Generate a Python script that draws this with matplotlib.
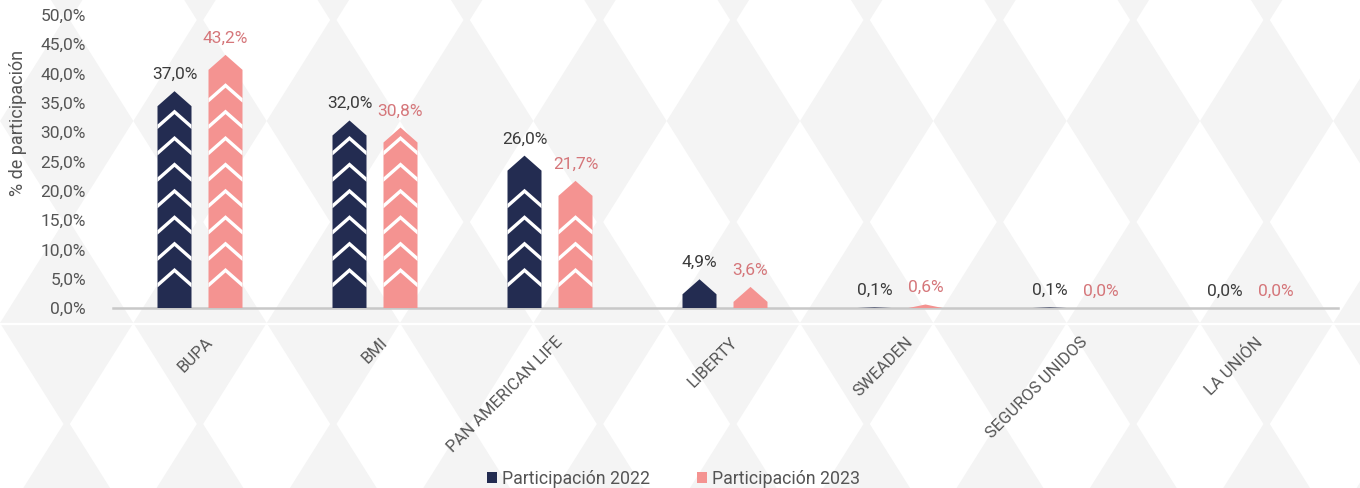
import numpy as np
import matplotlib
matplotlib.use('Agg')
import matplotlib.pyplot as plt
from matplotlib.patches import Polygon, Patch

categories = ['BUPA', 'BMI', 'PAN AMERICAN LIFE', 'LIBERTY', 'SWEADEN', 'SEGUROS UNIDOS', 'LA UNIÓN']
part_2022 = [37.0, 32.0, 26.0, 4.9, 0.1, 0.1, 0.0]
part_2023 = [43.2, 30.8, 21.7, 3.6, 0.6, 0.0, 0.0]
series_names = ['Participación 2022', 'Participación 2023']
yticks = [0, 5, 10, 15, 20, 25, 30, 35, 40, 45, 50]

NAVY = '#232c51'
PINK = '#f49391'
LBL_2022 = '#3c3c3c'
LBL_2023 = '#d5767a'
GREY_TXT = '#555555'
BG_GREY = '#f4f4f4'

plt.rcParams['font.family'] = ['Roboto', 'DejaVu Sans']

W, H = 1360, 488
fig = plt.figure(figsize=(W / 100, H / 100), dpi=100)
fig.patch.set_facecolor(BG_GREY)

# background harlequin pattern, pixel coords (y down)
bg = fig.add_axes([0, 0, 1, 1], zorder=0)
bg.set_xlim(0, W)
bg.set_ylim(H, 0)
bg.axis('off')
step_x, half_w, half_h = 133.33, 63.5, 101
for j in range(-1, 4):
    cy = 20 + 202 * j
    for i in range(-1, 12):
        cx = step_x * i
        bg.add_patch(Polygon([(cx - half_w, cy), (cx, cy - half_h), (cx + half_w, cy), (cx, cy + half_h)],
                             closed=True, facecolor='white', edgecolor='none'))
bg.axhline(323.5, color='white', lw=1.6)

# main axes: 0% at y=308px, 50% at y=15px
ax = fig.add_axes([112.5 / W, (H - 308) / H, 1225 / W, 293 / H], zorder=1)
ax.set_facecolor('none')
ax.set_xlim(-0.5, 6.5)
ax.set_ylim(0, 50)

px_x = 1 / 175.0       # data units per pixel, x
px_y = 50 / 293.0      # data units per pixel, y
bar_w = 34 * px_x
offset = 25.5 * px_x
rise = 15 * px_y
gap = 4.5 * px_y


def chevron_bar(x, val, color):
    top = val
    sh = max(top - rise, 0)
    ax.add_patch(Polygon([(x - bar_w / 2, 0), (x + bar_w / 2, 0), (x + bar_w / 2, sh),
                          (x, top), (x - bar_w / 2, sh)], closed=True,
                         facecolor=color, edgecolor='none', zorder=3))
    # white chevrons sit at fixed heights from the base
    k = 0
    while True:
        p = (40 + 26.4 * k) * px_y
        if p > top - 8 * px_y:
            break
        ax.add_patch(Polygon([(x - bar_w / 2, p - rise), (x, p), (x + bar_w / 2, p - rise),
                              (x + bar_w / 2, p - rise - gap), (x, p - gap), (x - bar_w / 2, p - rise - gap)],
                             closed=True, facecolor='white', edgecolor='none', zorder=4))
        k += 1


xs = np.arange(len(categories))
for x, v1, v2 in zip(xs, part_2022, part_2023):
    chevron_bar(x - offset, v1, NAVY)
    chevron_bar(x + offset, v2, PINK)
    for xx, v, c in [(x - offset, v1, LBL_2022), (x + offset, v2, LBL_2023)]:
        ax.annotate(f'{v:.1f}%'.replace('.', ','), (xx, v), xytext=(0, 12), textcoords='offset points',
                    ha='center', va='center', fontsize=12.5, color=c, zorder=5)

# axis styling
for s in ['top', 'right', 'left']:
    ax.spines[s].set_visible(False)
ax.spines['bottom'].set_color('#c8c8c8')
ax.spines['bottom'].set_linewidth(1.8)
ax.set_yticks(yticks)
ax.set_yticklabels([f'{t:.1f}%'.replace('.', ',') for t in yticks], fontsize=12.5, color=GREY_TXT)
ax.tick_params(axis='y', length=0, pad=19)
ax.set_xticks([])

for x, name in zip(xs, categories):
    ax.text(x + 10 * px_x, -32 * px_y, name, rotation=45, rotation_mode='anchor',
            ha='right', va='center', fontsize=12, color=GREY_TXT, clip_on=False)

fig.text(18 / W, 1 - 123 / H, '% de participación', rotation=90, ha='center', va='center',
         fontsize=13, color=GREY_TXT)

handles = [Patch(facecolor=NAVY, edgecolor='none'), Patch(facecolor=PINK, edgecolor='none')]
fig.legend(handles, series_names, loc='center', bbox_to_anchor=(673.5 / W, 1 - 479 / H), ncol=2,
           frameon=False, fontsize=12.8, handlelength=0.56, handleheight=0.56, handletextpad=0.28,
           columnspacing=2.64, labelcolor=GREY_TXT)

fig.savefig('out.png', dpi=100, facecolor=fig.get_facecolor())
